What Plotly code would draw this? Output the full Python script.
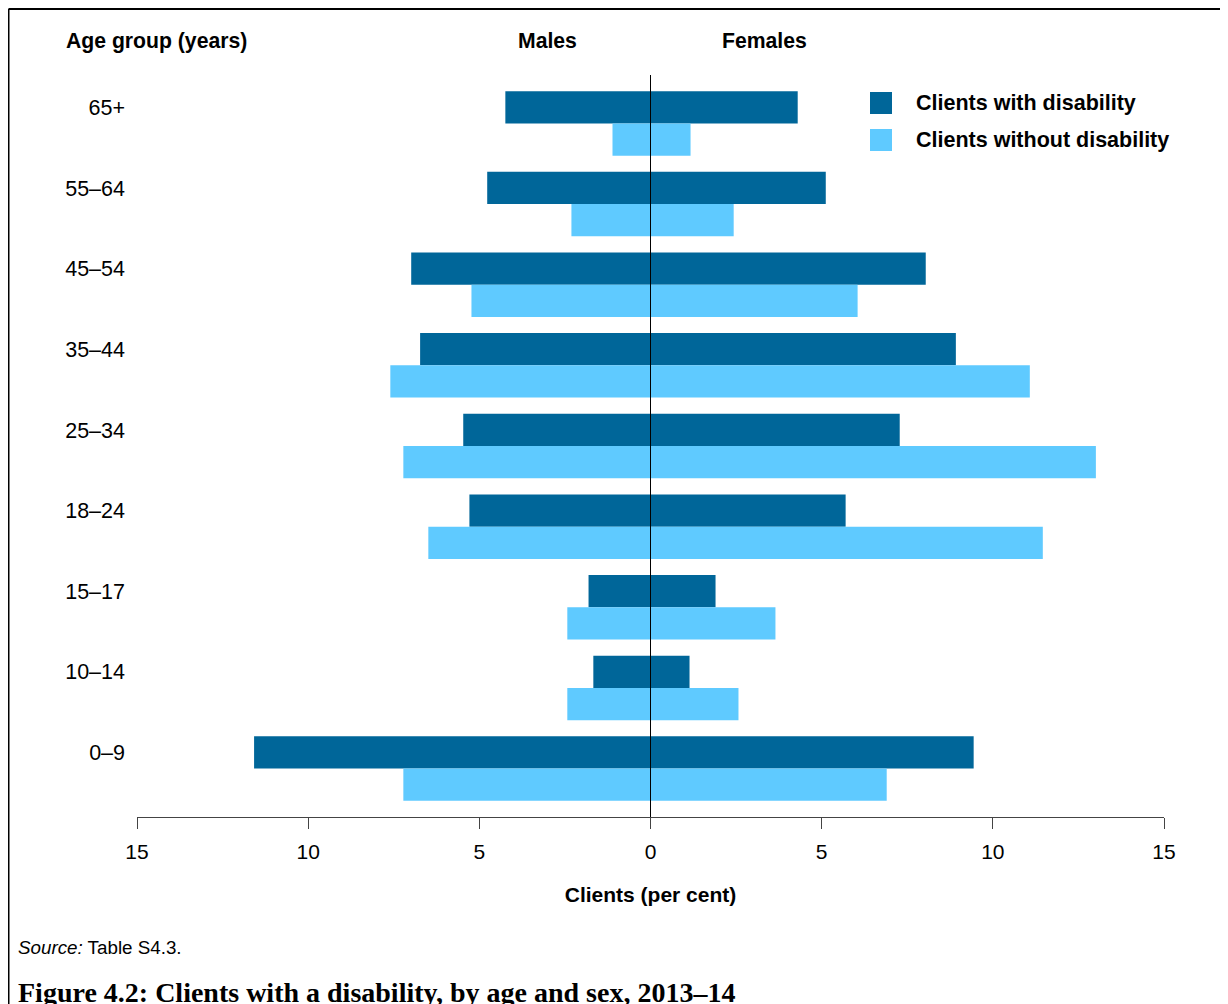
import plotly.graph_objects as go

age_groups = ["0–9", "10–14", "15–17", "18–24", "25–34", "35–44", "45–54", "55–64", "65+"]
male_with = [11.58, 1.67, 1.81, 5.29, 5.47, 6.73, 6.99, 4.77, 4.24]
male_without = [7.22, 2.43, 2.43, 6.49, 7.22, 7.60, 5.23, 2.31, 1.11]
female_with = [9.44, 1.14, 1.90, 5.70, 7.28, 8.92, 8.04, 5.12, 4.30]
female_without = [6.90, 2.57, 3.65, 11.46, 13.01, 11.08, 6.05, 2.43, 1.17]
x_ticks = [-15, -10, -5, 0, 5, 10, 15]
x_tick_labels = ["15", "10", "5", "0", "5", "10", "15"]
series_names = ["Clients with disability", "Clients without disability"]

DARK = "#006699"
LIGHT = "#5FCAFF"
FONT = "Liberation Sans, Arial, sans-serif"
SERIF = "Liberation Serif, Times New Roman, serif"

fig = go.Figure()
W = 0.4
fig.add_trace(go.Bar(y=age_groups, x=[-v for v in male_with], orientation="h",
                     marker=dict(color=DARK, line=dict(width=0)), width=W, offset=0,
                     name=series_names[0], showlegend=False))
fig.add_trace(go.Bar(y=age_groups, x=[-v for v in male_without], orientation="h",
                     marker=dict(color=LIGHT, line=dict(width=0)), width=W, offset=-W,
                     name=series_names[1], showlegend=False))
fig.add_trace(go.Bar(y=age_groups, x=female_with, orientation="h",
                     marker=dict(color=DARK, line=dict(width=0)), width=W, offset=0,
                     name=series_names[0], showlegend=False))
fig.add_trace(go.Bar(y=age_groups, x=female_without, orientation="h",
                     marker=dict(color=LIGHT, line=dict(width=0)), width=W, offset=-W,
                     name=series_names[1], showlegend=False))

# page has an 8px body margin: figure is drawn at (8, 8)
OFF = 8
Wf, Hf = 1220, 996
L, T = 129, 67
pw, ph = 1027, 742
R = Wf - L - pw
B = Hf - T - ph

def fx(p):
    return (p - OFF - L) / pw

def fy(p):
    return (T + ph - (p - OFF)) / ph

fig.update_layout(
    width=Wf, height=Hf,
    margin=dict(l=L, r=R, t=T, b=B, autoexpand=False),
    paper_bgcolor="white", plot_bgcolor="white",
    barmode="overlay",
    font=dict(family=FONT, size=21, color="black"),
    showlegend=False,
    xaxis=dict(range=[-15, 15], tickvals=x_ticks, ticktext=x_tick_labels,
               showgrid=False, zeroline=False, showline=True, linecolor="#444", linewidth=1,
               ticks="outside", ticklen=11, tickcolor="#444", tickwidth=1,
               tickfont=dict(size=21), ticklabelstandoff=5, fixedrange=True,
               title=dict(text="<b>Clients (per cent)</b>", font=dict(size=21), standoff=25)),
    yaxis=dict(type="category", categoryorder="array", categoryarray=age_groups,
               range=[-0.6, 8.6], showgrid=False, zeroline=False, showline=False,
               ticks="", tickfont=dict(size=21.5), ticklabelshift=-16, ticklabelstandoff=11,
               fixedrange=True),
)

# zero line above bars
fig.add_shape(type="line", xref="x", yref="paper", x0=0, x1=0, y0=0, y1=1,
              line=dict(color="black", width=1), layer="above")

# border lines (top and left)
fig.add_shape(type="line", xref="paper", yref="paper", x0=fx(8.5), x1=fx(1240),
              y0=fy(9), y1=fy(9), line=dict(color="black", width=2), layer="above")
fig.add_shape(type="line", xref="paper", yref="paper", x0=fx(8.5), x1=fx(8.5),
              y0=fy(9), y1=fy(1010), line=dict(color="black", width=2), layer="above")

# legend (drawn manually to match the large swatches)
for i, (name, col) in enumerate(zip(series_names, [DARK, LIGHT])):
    top = 92 + 37 * i
    fig.add_shape(type="rect", xref="paper", yref="paper",
                  x0=fx(870), x1=fx(892), y0=fy(top), y1=fy(top + 22),
                  fillcolor=col, line=dict(width=0), layer="above")
    fig.add_annotation(text="<b>" + name + "</b>", xref="paper", yref="paper",
                       x=fx(914), y=fy(top + 11), xanchor="left", yanchor="middle",
                       showarrow=False, font=dict(size=21.5, family=FONT, color="black"))

ann = [
    ("<b>Age group (years)</b>", 64, 41, "left", 21.2, FONT),
    ("<b>Males</b>", 547, 41, "center", 21.2, FONT),
    ("<b>Females</b>", 764, 41, "center", 21.2, FONT),
    ("<i>Source:</i> Table S4.3.", 16, 948, "left", 18.8, FONT),
    ("<b>Figure 4.2: Clients with a disability, by age and sex, 2013–14</b>", 16, 992, "left", 28, SERIF),
]
for text, x, y, anchor, size, fam in ann:
    fig.add_annotation(text=text, xref="paper", yref="paper", x=fx(x), y=fy(y),
                       xanchor=anchor, yanchor="middle", showarrow=False,
                       font=dict(size=size, family=fam, color="black"))

fig.write_html("out.html")
